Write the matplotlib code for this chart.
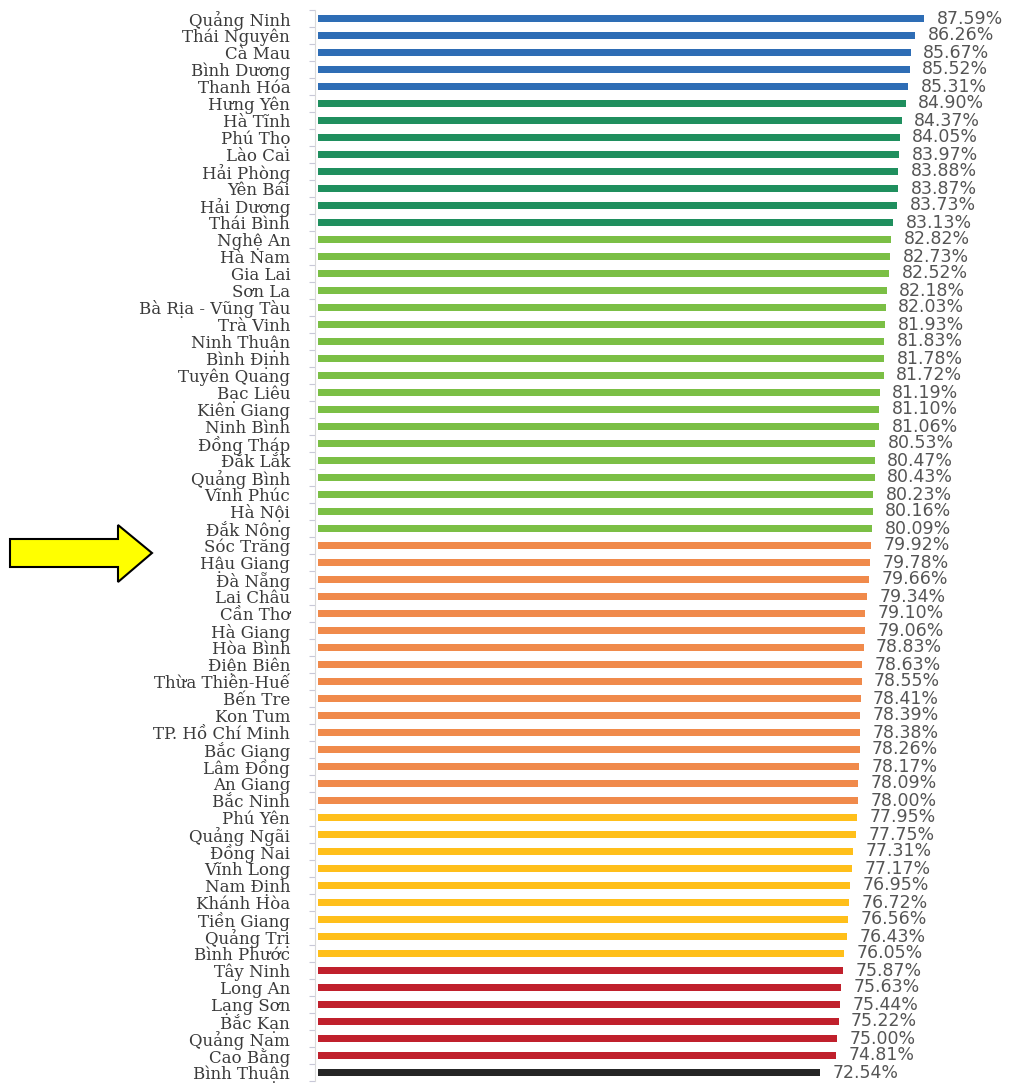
import matplotlib
matplotlib.use("Agg")
import matplotlib.pyplot as plt
from matplotlib.patches import Polygon
import numpy as np

provinces = ["Quảng Ninh", "Thái Nguyên", "Cà Mau", "Bình Dương", "Thanh Hóa",
             "Hưng Yên", "Hà Tĩnh", "Phú Thọ", "Lào Cai", "Hải Phòng", "Yên Bái",
             "Hải Dương", "Thái Bình", "Nghệ An", "Hà Nam", "Gia Lai", "Sơn La",
             "Bà Rịa - Vũng Tàu", "Trà Vinh", "Ninh Thuận", "Bình Định",
             "Tuyên Quang", "Bạc Liêu", "Kiên Giang", "Ninh Bình", "Đồng Tháp",
             "Đắk Lắk", "Quảng Bình", "Vĩnh Phúc", "Hà Nội", "Đắk Nông",
             "Sóc Trăng", "Hậu Giang", "Đà Nẵng", "Lai Châu", "Cần Thơ", "Hà Giang",
             "Hòa Bình", "Điện Biên", "Thừa Thiên-Huế", "Bến Tre", "Kon Tum",
             "TP. Hồ Chí Minh", "Bắc Giang", "Lâm Đồng", "An Giang", "Bắc Ninh",
             "Phú Yên", "Quảng Ngãi", "Đồng Nai", "Vĩnh Long", "Nam Định",
             "Khánh Hòa", "Tiền Giang", "Quảng Trị", "Bình Phước", "Tây Ninh",
             "Long An", "Lạng Sơn", "Bắc Kạn", "Quảng Nam", "Cao Bằng", "Bình Thuận"]

values = [87.59, 86.26, 85.67, 85.52, 85.31,
          84.90, 84.37, 84.05, 83.97, 83.88, 83.87, 83.73, 83.13,
          82.82, 82.73, 82.52, 82.18, 82.03, 81.93, 81.83, 81.78, 81.72,
          81.19, 81.10, 81.06, 80.53, 80.47, 80.43, 80.23, 80.16, 80.09,
          79.92, 79.78, 79.66, 79.34, 79.10, 79.06, 78.83, 78.63, 78.55,
          78.41, 78.39, 78.38, 78.26, 78.17, 78.09, 78.00,
          77.95, 77.75, 77.31, 77.17, 76.95, 76.72, 76.56, 76.43, 76.05,
          75.87, 75.63, 75.44, 75.22, 75.00, 74.81,
          72.54]

# colour group for each bar, in order
group_sizes = [5, 8, 18, 16, 9, 6, 1]
group_colors = ["#2E6DB5", "#1F8F5E", "#7BBF45", "#F08A4B", "#FFBF1A", "#C0202C", "#262626"]

colors = []
for n, col in zip(group_sizes, group_colors):
    colors += [col] * n

W, H = 1024, 1086
fig = plt.figure(figsize=(W / 100, H / 100), dpi=100)
ax = fig.add_axes([318 / W, 5 / H, 692 / W, 1 - 15 / H])

y = np.arange(len(provinces))
ax.barh(y, values, height=0.47, color=colors)

for yi, v in zip(y, values):
    ax.annotate(f"{v:.2f}%", (v, yi), xytext=(9, 0), textcoords="offset points",
                va="center", ha="left", fontsize=12.5, color="#555555",
                family="DejaVu Sans")

ax.set_xlim(0, 100)
ax.set_ylim(len(provinces) - 0.5, -0.5)
ax.set_yticks(y, provinces)
ax.tick_params(axis="y", which="major", length=0, pad=18,
               labelfontfamily="DejaVu Serif", labelsize=12, labelcolor="#3a3a3a")
ax.set_yticks(np.arange(len(provinces) + 1) - 0.5, minor=True)
ax.tick_params(axis="y", which="minor", length=4, color="#c8c8d8", width=0.8)
ax.set_xticks([])

for s in ["top", "right", "bottom"]:
    ax.spines[s].set_visible(False)
ax.spines["left"].set_color("#d9d9d9")
ax.spines["left"].set_position(("outward", 2))

# yellow arrow pointing at Sóc Trăng
arrow_px = [(10, 539), (118, 539), (118, 525), (152, 553), (118, 582), (118, 567), (10, 567)]
arrow = Polygon([(px / W, 1 - py / H) for px, py in arrow_px], closed=True,
                facecolor="#FFFF00", edgecolor="black", linewidth=1.5,
                transform=fig.transFigure)
fig.patches.append(arrow)

fig.savefig("out.png", dpi=100, facecolor="white")
